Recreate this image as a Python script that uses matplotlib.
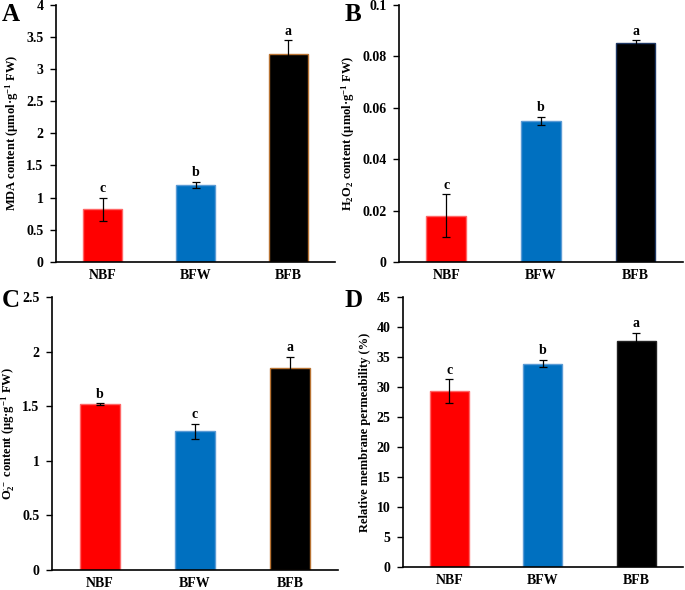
import matplotlib
matplotlib.use("Agg")
import matplotlib.pyplot as plt
import numpy as np

# --- Data ---
groups = ["NBF", "BFW", "BFB"]
bar_colors = ["#FF0000", "#0070C0", "#000000"]

mda_mean = [0.82, 1.20, 3.23]
mda_err = [0.18, 0.05, 0.22]
mda_sig = ["c", "b", "a"]

h2o2_mean = [0.0180, 0.0548, 0.0852]
h2o2_err = [0.0083, 0.0017, 0.0010]
h2o2_sig = ["c", "b", "a"]

o2_mean = [1.52, 1.27, 1.85]
o2_err = [0.005, 0.07, 0.10]
o2_sig = ["b", "c", "a"]

rmp_mean = [29.3, 33.9, 37.6]
rmp_err = [2.0, 0.6, 1.4]
rmp_sig = ["c", "b", "a"]

plt.rcParams['font.family'] = ['Liberation Serif', 'DejaVu Serif']
plt.rcParams['font.weight'] = 'bold'
plt.rcParams['mathtext.fontset'] = 'custom'
plt.rcParams['mathtext.rm'] = 'Liberation Serif:bold'
plt.rcParams['mathtext.it'] = 'Liberation Serif:bold'
plt.rcParams['mathtext.bf'] = 'Liberation Serif:bold'
plt.rcParams['mathtext.default'] = 'rm'

fig = plt.figure(figsize=(6.85, 5.9), dpi=100)

panels = [
    # rect, means, errs, sig, ylim, yticks, ticklabels, ylabel, letter, letter pos, bfb edge
    ([0.082, 0.556, 0.407, 0.436], mda_mean, mda_err, mda_sig, 4,
     np.arange(0, 4.01, 0.5), ["0", "0.5", "1", "1.5", "2", "2.5", "3", "3.5", "4"],
     r"MDA content (μmol·g$^{-1}$ FW)", "A", (0.002, 0.975), "#B87333"),
    ([0.5825, 0.556, 0.4145, 0.436], h2o2_mean, h2o2_err, h2o2_sig, 0.1,
     np.arange(0, 0.101, 0.02), ["0", "0.02", "0.04", "0.06", "0.08", "0.1"],
     r"H$_2$O$_2$ content (μmol·g$^{-1}$ FW)", "B", (0.503, 0.975), "#1F3864"),
    ([0.076, 0.034, 0.417, 0.4626], o2_mean, o2_err, o2_sig, 2.5,
     np.arange(0, 2.51, 0.5), ["0", "0.5", "1", "1.5", "2", "2.5"],
     r"O$_2^{\cdot-}$ content (μg·g$^{-1}$ FW)", "C", (0.002, 0.49), "#B87333"),
    ([0.588, 0.039, 0.409, 0.4576], rmp_mean, rmp_err, rmp_sig, 45,
     np.arange(0, 45.1, 5), [str(v) for v in range(0, 46, 5)],
     "Relative membrane permeability (%)", "D", (0.503, 0.49), "#222222"),
]

x = np.arange(len(groups))
for rect, means, errs, sig, ymax, yticks, ytl, ylabel, letter, lpos, bfb_edge in panels:
    ax = fig.add_axes(rect)
    edges = ["#FF6666", "#5B9BD5", bfb_edge]
    ax.bar(x, means, width=0.42, color=bar_colors, edgecolor=edges, linewidth=1.0, zorder=2)
    ax.errorbar(x, means, yerr=errs, fmt="none", ecolor="black", elinewidth=0.9,
                capsize=3, capthick=0.9, zorder=3)
    for xi, m, e, s in zip(x, means, errs, sig):
        ax.text(xi, m + e + ymax * 0.01, s, ha="center", va="bottom",
                fontsize=10, fontweight="bold")
    ax.set_xlim(-0.5, 2.5)
    ax.set_ylim(0, ymax)
    ax.set_yticks(yticks)
    ax.set_yticklabels(ytl, fontsize=10, fontweight="bold")
    ax.set_xticks(x)
    ax.set_xticklabels(groups, fontsize=10, fontweight="bold")
    ax.tick_params(axis="x", length=0, pad=5)
    ax.tick_params(axis="y", direction="out", length=4, width=1, pad=5)
    ax.spines["top"].set_visible(False)
    ax.spines["right"].set_visible(False)
    ax.spines["left"].set_linewidth(1.2)
    ax.spines["bottom"].set_linewidth(1.2)
    ax.set_ylabel(ylabel, fontsize=9, fontweight="bold", labelpad=4)
    fig.text(lpos[0], lpos[1], letter, fontsize=18, fontweight="bold",
             ha="left", va="center")

fig.savefig("out.png", dpi=100)
